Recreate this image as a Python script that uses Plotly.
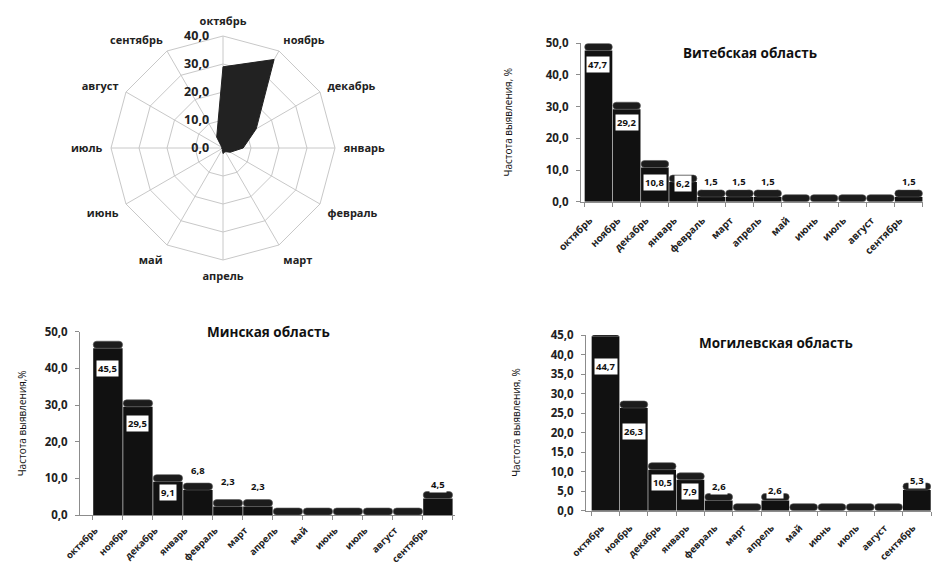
import plotly.graph_objects as go

# Months of the season (October to September)
months = ["октябрь", "ноябрь", "декабрь", "январь", "февраль", "март",
          "апрель", "май", "июнь", "июль", "август", "сентябрь"]

# Detection frequency, % — all regions (radar)
all_regions = [29.0, 36.5, 13.7, 7.2, 3.0, 1.5, 2.0, 0.5, 0.5, 0.5, 0.5, 4.5]

# Detection frequency by month, % — per region
vitebsk = [47.7, 29.2, 10.8, 6.2, 1.5, 1.5, 1.5, 0.0, 0.0, 0.0, 0.0, 1.5]
minsk = [45.5, 29.5, 9.1, 6.8, 2.3, 2.3, 0.0, 0.0, 0.0, 0.0, 0.0, 4.5]
mogilev = [44.7, 26.3, 10.5, 7.9, 2.6, 0.0, 2.6, 0.0, 0.0, 0.0, 0.0, 5.3]

# Radial / y-axis tick values
radar_ticks = [0, 10, 20, 30, 40]
ticks_10 = [0, 10, 20, 30, 40, 50]
ticks_5 = [0, 5, 10, 15, 20, 25, 30, 35, 40, 45]

W, H = 932, 567
FONT = "Open Sans"


def fmt(v):
    return f"{v:.1f}".replace(".", ",")


def px_x(p):
    return p / W


def px_y(p):
    return 1 - p / H


fig = go.Figure()

# ---- radar ----
theta = months + [months[0]]
r = all_regions + [all_regions[0]]
fig.add_trace(go.Scatterpolar(
    r=r, theta=theta, mode="lines", fill="toself",
    fillcolor="#222222", line=dict(color="#222222", width=1),
    showlegend=False, hoverinfo="skip",
))

cx, cy, rad = 223, 148, 112
fig.update_layout(polar=dict(
    domain=dict(x=[px_x(cx - rad), px_x(cx + rad)],
                y=[px_y(cy + rad), px_y(cy - rad)]),
    gridshape="linear",
    bgcolor="white",
    angularaxis=dict(
        rotation=90, direction="clockwise", type="category",
        categoryarray=months, showline=True, linecolor="#c8c8c8",
        gridcolor="#c8c8c8", ticks="outside", ticklen=6,
        tickcolor="rgba(0,0,0,0)",
        tickfont=dict(family=FONT, size=11, color="#222", weight="bold"),
    ),
    radialaxis=dict(
        range=[0, 40], angle=90, tickangle=90, side="counterclockwise",
        tickvals=radar_ticks, ticktext=[fmt(v) for v in radar_ticks],
        showline=False, gridcolor="#c8c8c8",
        ticks="outside", ticklen=9, tickcolor="rgba(0,0,0,0)",
        tickfont=dict(family=FONT, size=12.5, color="#222", weight="bold"),
    ),
))

# ---- bar panels ----
panels = [
    dict(values=vitebsk, ax="2", title="Витебская область",
         ytitle="Частота выявления, %", ticks=ticks_10, top=50,
         x0=581, x1=923, xr=[-0.62, 11.51], y0=201.7, y1=43.3,
         title_xy=(750, 53), ytitle_x=508, lshift=-9, lstand=8, lsize=10,
         shifts=[-14, -13, -15, -1, 15, 15, 15, 0, 0, 0, 0, 15]),
    dict(values=minsk, ax="3", title="Минская область",
         ytitle="Частота выявления,%", ticks=ticks_10, top=50,
         x0=80, x1=455, xr=[-0.93, 11.57], y0=515, y1=331.7,
         title_xy=(268, 332), ytitle_x=22, lshift=-13, lstand=5, lsize=9.5,
         shifts=[-20, -17, -11, 20, 25, 20, 0, 0, 0, 0, 0, 14]),
    dict(values=mogilev, ax="4", title="Могилевская область",
         ytitle="Частота выявления, %", ticks=ticks_5, top=45,
         x0=586, x1=931, xr=[-0.69, 11.5], y0=510.7, y1=335,
         title_xy=(776, 343), ytitle_x=516, lshift=-4, lstand=7, lsize=9.5,
         shifts=[-30, -23, -13, -12, 14, 0, 10, 0, 0, 0, 0, 10]),
]

annotations = []
for p in panels:
    xa, ya = "x" + p["ax"], "y" + p["ax"]
    px_per_unit = (p["y0"] - p["y1"]) / p["top"]
    cap = 7 / px_per_unit
    vals = p["values"]

    # cylinder body
    fig.add_trace(go.Bar(
        x=months, y=vals, xaxis=xa, yaxis=ya, width=0.98,
        marker=dict(color="#111111", line=dict(width=0)),
        showlegend=False, hoverinfo="skip", cliponaxis=False,
    ))
    # rounded cylinder top
    fig.add_trace(go.Bar(
        x=months, y=[cap] * len(vals), base=vals, xaxis=xa, yaxis=ya,
        width=0.98, marker=dict(color="#1c1c1c", cornerradius=5,
                                line=dict(color="#5a5a5a", width=0.6)),
        showlegend=False, hoverinfo="skip", cliponaxis=False,
    ))

    ax_key = "xaxis" + p["ax"]
    ay_key = "yaxis" + p["ax"]
    fig.update_layout({
        ax_key: dict(
            domain=[px_x(p["x0"]), px_x(p["x1"])], anchor=ya,
            type="category", categoryarray=months, range=p["xr"],
            automargin=False,
            showline=True, linecolor="#8c8c8c", linewidth=1,
            ticks="outside", tickson="boundaries", ticklen=4,
            tickcolor="#8c8c8c", tickangle=-45, showgrid=False,
            ticklabelstandoff=p["lstand"], ticklabelshift=p["lshift"],
            tickfont=dict(family=FONT, size=p["lsize"], color="#222",
                          weight="bold"),
        ),
        ay_key: dict(
            domain=[px_y(p["y0"]), px_y(p["y1"])], anchor=xa,
            range=[0, p["top"]], tickvals=p["ticks"],
            ticktext=[fmt(v) for v in p["ticks"]],
            automargin=False,
            showline=True, linecolor="#8c8c8c", linewidth=1,
            ticks="outside", ticklen=4, tickcolor="#8c8c8c",
            ticklabelstandoff=5,
            showgrid=False, zeroline=False,
            tickfont=dict(family=FONT, size=11.5, color="#222", weight="bold"),
        ),
    })

    # value labels
    for m, v, s in zip(months, vals, p["shifts"]):
        if v <= 0:
            continue
        annotations.append(dict(
            x=m, y=v, xref=xa, yref=ya, text=fmt(v), showarrow=False,
            yshift=s, bgcolor="white", borderpad=1,
            font=dict(family=FONT, size=9.5, color="#111", weight="bold"),
        ))

    # panel title
    tx, ty = p["title_xy"]
    annotations.append(dict(
        x=px_x(tx), y=px_y(ty), xref="paper", yref="paper",
        text=p["title"], showarrow=False, xanchor="center", yanchor="middle",
        font=dict(family=FONT, size=13.5, color="#111", weight="bold"),
    ))
    # y-axis title
    annotations.append(dict(
        x=px_x(p["ytitle_x"]), y=px_y((p["y0"] + p["y1"]) / 2),
        xref="paper", yref="paper", text=p["ytitle"], textangle=-90,
        showarrow=False, xanchor="center", yanchor="middle",
        font=dict(family=FONT, size=10, color="#111"),
    ))

fig.update_layout(
    width=W, height=H, margin=dict(l=0, r=0, t=0, b=0, autoexpand=False),
    paper_bgcolor="white", plot_bgcolor="white",
    barmode="overlay", bargap=0.02,
    annotations=annotations,
)

# the figure fills the whole page: drop the browser's default body margin
fig.write_html("out.html", post_script="document.body.style.margin = '0';")
